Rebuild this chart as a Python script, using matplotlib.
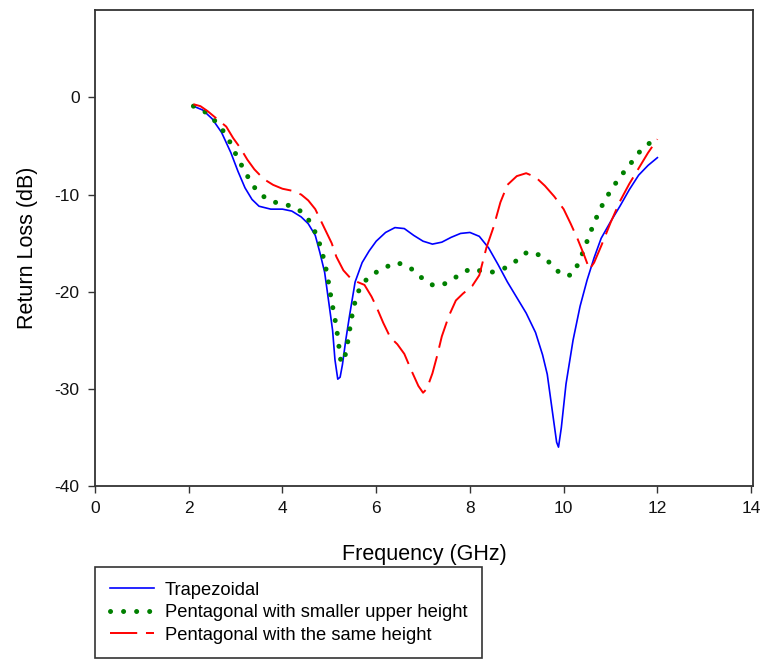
import matplotlib.pyplot as plt

plt.rcParams['font.family'] = ['Liberation Sans', 'DejaVu Sans']
plt.rcParams['axes.unicode_minus'] = False

# Trapezoidal
f_trap = [2.1, 2.3, 2.5, 2.7, 2.9, 3.05, 3.2, 3.35, 3.5, 3.75, 4.0, 4.2, 4.4, 4.55, 4.7, 4.8,
          4.9, 5.0, 5.07, 5.12, 5.18, 5.23, 5.28, 5.35, 5.43, 5.55, 5.7, 5.85, 6.0, 6.2,
          6.4, 6.6, 6.8, 7.0, 7.2, 7.4, 7.6, 7.8, 8.0, 8.2, 8.4, 8.6, 8.8, 9.0, 9.2, 9.4,
          9.55, 9.65, 9.75, 9.85, 9.89, 9.95, 10.05, 10.2, 10.35, 10.5, 10.65, 10.8, 11.0,
          11.2, 11.4, 11.6, 11.8, 12.0]
rl_trap = [-0.9, -1.3, -2.2, -3.6, -5.7, -7.6, -9.3, -10.5, -11.2, -11.5, -11.5, -11.7,
           -12.3, -13.0, -14.2, -16.0, -18.0, -21.5, -24.0, -27.0, -29.0, -28.8, -27.5,
           -25.0, -22.5, -19.0, -17.0, -15.8, -14.8, -13.9, -13.4, -13.5, -14.2, -14.8,
           -15.1, -14.9, -14.4, -14.0, -13.9, -14.3, -15.5, -17.2, -19.0, -20.6, -22.2,
           -24.2, -26.5, -28.5, -32.0, -35.5, -36.0, -34.0, -29.5, -25.0, -21.5, -18.8,
           -16.5, -14.5, -12.8, -11.2, -9.5, -8.0, -7.0, -6.2]

# Pentagonal with smaller upper height
f_pent_small = [2.1, 2.3, 2.5, 2.7, 2.85, 3.0, 3.15, 3.3, 3.45, 3.65, 3.85, 4.05, 4.25, 4.45,
                4.6, 4.75, 4.85, 4.95, 5.05, 5.15, 5.25, 5.32, 5.4, 5.47, 5.55, 5.65, 5.8,
                6.0, 6.2, 6.4, 6.6, 6.8, 7.0, 7.2, 7.35, 7.5, 7.7, 7.9, 8.05, 8.25, 8.45,
                8.65, 8.85, 9.05, 9.2, 9.35, 9.5, 9.7, 9.9, 10.05, 10.2, 10.35, 10.5, 10.65,
                10.8, 11.0, 11.2, 11.4, 11.6, 11.8, 12.0]
rl_pent_small = [-0.9, -1.3, -2.1, -3.2, -4.3, -5.8, -7.2, -8.5, -9.6, -10.4, -10.8, -11.0,
                 -11.3, -11.9, -12.9, -14.4, -16.0, -18.1, -21.0, -23.6, -27.3, -27.0,
                 -25.0, -22.8, -21.0, -19.6, -18.7, -18.0, -17.5, -17.0, -17.2, -17.8,
                 -18.7, -19.3, -19.4, -19.1, -18.5, -17.9, -17.6, -17.9, -18.0, -17.8,
                 -17.3, -16.6, -16.0, -15.9, -16.3, -17.0, -18.0, -18.4, -18.2, -16.7,
                 -14.8, -12.9, -11.3, -9.6, -8.2, -7.0, -5.7, -4.8, -4.3]

# Pentagonal with the same height
f_pent_same = [2.1, 2.25, 2.4, 2.6, 2.8, 2.95, 3.1, 3.25, 3.4, 3.6, 3.8, 4.0, 4.2, 4.4, 4.55,
               4.7, 4.85, 5.05, 5.15, 5.3, 5.45, 5.6, 5.75, 5.9, 6.0, 6.15, 6.3, 6.45, 6.6,
               6.75, 6.9, 7.0, 7.08, 7.2, 7.3, 7.4, 7.55, 7.7, 7.85, 8.05, 8.2, 8.35, 8.5,
               8.65, 8.8, 9.0, 9.2, 9.4, 9.6, 9.8, 10.0, 10.15, 10.3, 10.45, 10.55, 10.65,
               10.8, 11.0, 11.2, 11.4, 11.6, 11.8, 12.0]
rl_pent_same = [-0.7, -0.9, -1.4, -2.2, -3.0, -4.2, -5.2, -6.4, -7.4, -8.4, -9.0, -9.4, -9.6,
                -10.0, -10.6, -11.5, -13.0, -15.0, -16.4, -17.8, -18.6, -19.0, -19.3,
                -20.5, -21.5, -23.2, -24.7, -25.4, -26.4, -28.1, -29.7, -30.4, -30.0,
                -28.4, -26.6, -24.6, -22.5, -20.9, -20.2, -19.4, -18.3, -15.5, -13.4,
                -10.8, -9.0, -8.1, -7.8, -8.2, -9.1, -10.2, -11.5, -13.0, -14.6, -16.4,
                -17.7, -17.0, -15.3, -12.9, -10.7, -8.9, -7.3, -5.7, -4.3]

x_ticks = [0, 2, 4, 6, 8, 10, 12, 14]
y_ticks = [-40, -30, -20, -10, 0]

fig = plt.figure(figsize=(7.67, 6.62), dpi=100)
ax = fig.add_axes([95 / 767, 1 - 486 / 662, 658 / 767, 476 / 662])

ax.plot(f_trap, rl_trap, color='#0000ff', lw=1.2, label='Trapezoidal')
ax.plot(f_pent_small, rl_pent_small, color='#008000', lw=3.6,
        linestyle=(0, (0.01, 2.6)), dash_capstyle='round',
        label='Pentagonal with smaller upper height')
ax.plot(f_pent_same, rl_pent_same, color='#ff0000', lw=1.4,
        linestyle=(0, (14, 4.5)), label='Pentagonal with the same height')

ax.set_xlim(0, 14.04)
ax.set_ylim(-40, 9)
ax.set_xticks(x_ticks)
ax.set_yticks(y_ticks)
ax.tick_params(direction='out', length=5, width=1, labelsize=12.5, top=False, right=False,
               colors='#333333', labelcolor='#111111', pad=6)
for sp in ax.spines.values():
    sp.set_color('#333333')
    sp.set_linewidth(1.3)

ax.set_xlabel('Frequency (GHz)', fontsize=15.5, labelpad=20)
ax.set_ylabel('Return Loss (dB)', fontsize=15.5, labelpad=12)

leg = fig.legend(loc='upper left', bbox_to_anchor=(95 / 767, 1 - 567 / 662),
                 borderaxespad=0, fontsize=13.2, fancybox=False, framealpha=1,
                 edgecolor='#333333', handlelength=2.4, labelspacing=0.3,
                 borderpad=0.8, handletextpad=0.6)
leg.get_frame().set_linewidth(1.2)

plt.savefig('out.png', dpi=100)
